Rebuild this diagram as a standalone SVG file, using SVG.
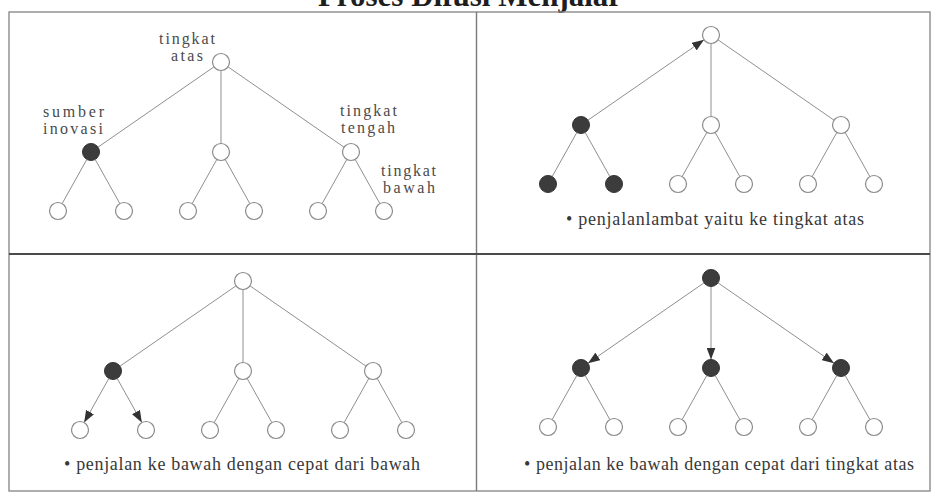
<svg xmlns="http://www.w3.org/2000/svg" width="934" height="494" viewBox="0 0 934 494">
  <style>
    .frame { fill: none; stroke: #8c8c8c; stroke-width: 1.4; }
    .divider-h { stroke: #4a4a4a; stroke-width: 2; }
    .divider-v { stroke: #7a7a7a; stroke-width: 1.4; }
    .link { fill: none; stroke: #8f8f8f; stroke-width: 1; }
    .arrow { fill: none; stroke: #8f8f8f; stroke-width: 1; marker-end: url(#head); }
    .open { fill: #ffffff; stroke: #8a8a8a; stroke-width: 1.2; }
    .filled { fill: #3c3c3c; stroke: #333333; stroke-width: 1; }
    .title { font-family: "Liberation Serif", "Times New Roman", serif; font-weight: bold; font-size: 31px; fill: #1e1e1e; }
    .label { font-family: "Liberation Serif", "Times New Roman", serif; font-size: 16px; fill: #4a4a4a; }
    .caption { font-family: "Liberation Serif", "Times New Roman", serif; font-size: 18px; fill: #383838; }
  </style>
  <defs>
    <marker id="head" viewBox="0 0 10 10" refX="10" refY="5" markerWidth="12" markerHeight="9" markerUnits="userSpaceOnUse" orient="auto" preserveAspectRatio="none">
      <path d="M0,0 L10,5 L0,10 z" fill="#333333"/>
    </marker>
  </defs>

  <rect width="934" height="494" fill="#ffffff"/>

  <!-- heading, partly above the top edge -->
  <text class="title" x="470" y="6" text-anchor="middle">Proses Difusi Menjalar</text>

  <!-- outer frame and quadrant dividers -->
  <rect class="frame" x="9" y="12" width="921" height="479"/>
  <line class="divider-v" x1="476.5" y1="12" x2="476.5" y2="491"/>
  <line class="divider-h" x1="9" y1="254" x2="930" y2="254"/>

  <!-- connectors: each tree in local coordinates, root at (0,0) -->
  <g id="connectors">
    <g transform="translate(221,62)">
      <path class="link" d="M-6.99,4.84 L-123.01,85.16"/>
      <path class="link" d="M0,8.5 L0,81.5"/>
      <path class="link" d="M6.99,4.84 L123.01,85.16"/>
      <path class="link" d="M-134.15,97.42 L-158.85,141.58 M-125.85,97.42 L-101.15,141.58"/>
      <path class="link" d="M-4.15,97.42 L-28.85,141.58 M4.15,97.42 L28.85,141.58"/>
      <path class="link" d="M125.85,97.42 L101.15,141.58 M134.15,97.42 L158.85,141.58"/>
    </g>
    <g transform="translate(711,35)">
      <path class="arrow" d="M-123.01,85.16 L-6.99,4.84"/>
      <path class="link" d="M0,8.5 L0,81.5"/>
      <path class="link" d="M6.99,4.84 L123.01,85.16"/>
      <path class="link" d="M-134.15,97.42 L-158.85,141.58 M-125.85,97.42 L-101.15,141.58"/>
      <path class="link" d="M-4.15,97.42 L-28.85,141.58 M4.15,97.42 L28.85,141.58"/>
      <path class="link" d="M125.85,97.42 L101.15,141.58 M134.15,97.42 L158.85,141.58"/>
    </g>
    <g transform="translate(243,281)">
      <path class="link" d="M-6.99,4.84 L-123.01,85.16"/>
      <path class="link" d="M0,8.5 L0,81.5"/>
      <path class="link" d="M6.99,4.84 L123.01,85.16"/>
      <path class="arrow" d="M-134.15,97.42 L-158.85,141.58"/>
      <path class="arrow" d="M-125.85,97.42 L-101.15,141.58"/>
      <path class="link" d="M-4.15,97.42 L-28.85,141.58 M4.15,97.42 L28.85,141.58"/>
      <path class="link" d="M125.85,97.42 L101.15,141.58 M134.15,97.42 L158.85,141.58"/>
    </g>
    <g transform="translate(711,278)">
      <path class="arrow" d="M-6.99,4.84 L-123.01,85.16"/>
      <path class="arrow" d="M0,8.5 L0,81.5"/>
      <path class="arrow" d="M6.99,4.84 L123.01,85.16"/>
      <path class="link" d="M-134.15,97.42 L-158.85,141.58 M-125.85,97.42 L-101.15,141.58"/>
      <path class="link" d="M-4.15,97.42 L-28.85,141.58 M4.15,97.42 L28.85,141.58"/>
      <path class="link" d="M125.85,97.42 L101.15,141.58 M134.15,97.42 L158.85,141.58"/>
    </g>
  </g>

  <!-- top-left: hierarchy with level names -->
  <g id="q1-top"><circle class="open" cx="221" cy="62" r="8.5"/>
    <text class="label" x="187" y="44" text-anchor="middle" textLength="56">tingkat</text>
    <text class="label" x="187" y="61" text-anchor="middle" textLength="32">atas</text></g>
  <g id="q1-mid-left"><circle class="filled" cx="91" cy="152" r="8.5"/>
    <text class="label" x="43" y="117" textLength="61">sumber</text>
    <text class="label" x="43" y="134" textLength="60">inovasi</text></g>
  <g id="q1-mid-centre"><circle class="open" cx="221" cy="152" r="8.5"/></g>
  <g id="q1-mid-right"><circle class="open" cx="351" cy="152" r="8.5"/>
    <text class="label" x="340" y="116" textLength="57">tingkat</text>
    <text class="label" x="341" y="133" textLength="54">tengah</text></g>
  <g id="q1-bot-1"><circle class="open" cx="58" cy="211" r="8.5"/></g>
  <g id="q1-bot-2"><circle class="open" cx="124" cy="211" r="8.5"/></g>
  <g id="q1-bot-3"><circle class="open" cx="188" cy="211" r="8.5"/></g>
  <g id="q1-bot-4"><circle class="open" cx="254" cy="211" r="8.5"/></g>
  <g id="q1-bot-5"><circle class="open" cx="318" cy="211" r="8.5"/></g>
  <g id="q1-bot-6"><circle class="open" cx="384" cy="211" r="8.5"/>
    <text class="label" x="381" y="176" textLength="55">tingkat</text>
    <text class="label" x="383" y="193" textLength="52">bawah</text></g>

  <!-- top-right: slow spread upward -->
  <g id="q2-top"><circle class="open" cx="711" cy="35" r="8.5"/></g>
  <g id="q2-mid-left"><circle class="filled" cx="581" cy="125" r="8.5"/></g>
  <g id="q2-mid-centre"><circle class="open" cx="711" cy="125" r="8.5"/></g>
  <g id="q2-mid-right"><circle class="open" cx="841" cy="125" r="8.5"/></g>
  <g id="q2-bot-1"><circle class="filled" cx="548" cy="184" r="8.5"/></g>
  <g id="q2-bot-2"><circle class="filled" cx="614" cy="184" r="8.5"/></g>
  <g id="q2-bot-3"><circle class="open" cx="678" cy="184" r="8.5"/></g>
  <g id="q2-bot-4"><circle class="open" cx="744" cy="184" r="8.5"/></g>
  <g id="q2-bot-5"><circle class="open" cx="808" cy="184" r="8.5"/></g>
  <g id="q2-bot-6"><circle class="open" cx="874" cy="184" r="8.5"/></g>
  <text class="caption" x="566" y="225" textLength="298">• penjalanlambat yaitu ke tingkat atas</text>

  <!-- bottom-left: fast spread down from a middle node -->
  <g id="q3-top"><circle class="open" cx="243" cy="281" r="8.5"/></g>
  <g id="q3-mid-left"><circle class="filled" cx="113" cy="371" r="8.5"/></g>
  <g id="q3-mid-centre"><circle class="open" cx="243" cy="371" r="8.5"/></g>
  <g id="q3-mid-right"><circle class="open" cx="373" cy="371" r="8.5"/></g>
  <g id="q3-bot-1"><circle class="open" cx="80" cy="430" r="8.5"/></g>
  <g id="q3-bot-2"><circle class="open" cx="146" cy="430" r="8.5"/></g>
  <g id="q3-bot-3"><circle class="open" cx="210" cy="430" r="8.5"/></g>
  <g id="q3-bot-4"><circle class="open" cx="276" cy="430" r="8.5"/></g>
  <g id="q3-bot-5"><circle class="open" cx="340" cy="430" r="8.5"/></g>
  <g id="q3-bot-6"><circle class="open" cx="406" cy="430" r="8.5"/></g>
  <text class="caption" x="64" y="470" textLength="356">• penjalan ke bawah dengan cepat dari bawah</text>

  <!-- bottom-right: fast spread down from the top -->
  <g id="q4-top"><circle class="filled" cx="711" cy="278" r="8.5"/></g>
  <g id="q4-mid-left"><circle class="filled" cx="581" cy="368" r="8.5"/></g>
  <g id="q4-mid-centre"><circle class="filled" cx="711" cy="368" r="8.5"/></g>
  <g id="q4-mid-right"><circle class="filled" cx="841" cy="368" r="8.5"/></g>
  <g id="q4-bot-1"><circle class="open" cx="548" cy="427" r="8.5"/></g>
  <g id="q4-bot-2"><circle class="open" cx="614" cy="427" r="8.5"/></g>
  <g id="q4-bot-3"><circle class="open" cx="678" cy="427" r="8.5"/></g>
  <g id="q4-bot-4"><circle class="open" cx="744" cy="427" r="8.5"/></g>
  <g id="q4-bot-5"><circle class="open" cx="808" cy="427" r="8.5"/></g>
  <g id="q4-bot-6"><circle class="open" cx="874" cy="427" r="8.5"/></g>
  <text class="caption" x="524" y="470" textLength="390">• penjalan ke bawah dengan cepat dari tingkat atas</text>
</svg>
